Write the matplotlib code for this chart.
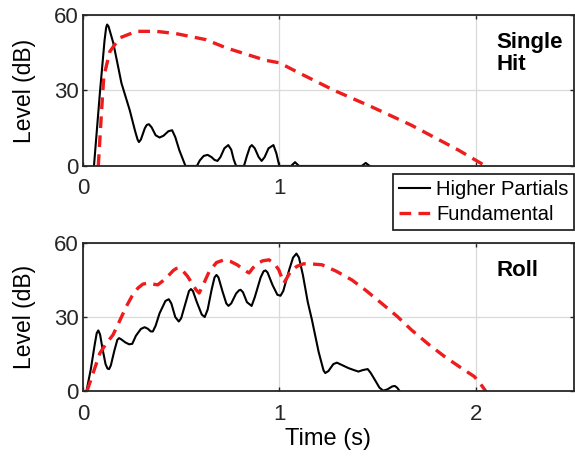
import matplotlib
matplotlib.use('Agg')
import matplotlib.pyplot as plt

plt.rcParams['font.family'] = ['Liberation Sans', 'DejaVu Sans']

# single hit - higher partials
t_hit_hp = [0.056, 0.086, 0.11, 0.118, 0.123, 0.13, 0.154, 0.175, 0.196, 0.238,
            0.265, 0.278, 0.285, 0.295, 0.315, 0.325, 0.336, 0.35, 0.37, 0.39,
            0.41, 0.435, 0.454, 0.47, 0.491, 0.522, 0.58, 0.595, 0.615, 0.635,
            0.655, 0.67, 0.685, 0.70, 0.72, 0.74, 0.755, 0.768, 0.78, 0.82,
            0.835, 0.85, 0.86, 0.875, 0.895, 0.91, 0.925, 0.945, 0.97, 0.985, 1.0,
            1.06, 1.08, 1.10, 1.42, 1.44, 1.46]
lv_hit_hp = [0, 28.9, 50, 55, 56.2, 55.5, 49, 41, 32.9, 22.2,
             14, 10.5, 9.5, 10.5, 15, 16.3, 16.6, 15.3, 12.2, 11.3,
             12, 13.8, 14.2, 11.5, 6.2, 0, 0, 2.2, 4, 4.4,
             3.5, 2.4, 2, 3.5, 7, 8.3, 6.5, 2.5, 0, 0,
             4, 7.5, 8.3, 7, 3.5, 2, 3.5, 7, 8.3, 5, 0,
             0, 1.5, 0, 0, 1.2, 0]

# single hit - fundamental
t_hit_f = [0.078, 0.095, 0.106, 0.137, 0.187, 0.272, 0.373, 0.474, 0.626, 0.73,
           0.93, 1.0, 1.10, 1.28, 1.47, 1.67, 1.91, 2.05]
lv_hit_f = [0, 22.2, 35.5, 45.5, 50.9, 53.5, 53.5, 52.6, 50.2, 46.9,
            42, 41, 37, 30, 23.5, 16.3, 6.4, 0]

# roll - higher partials
t_roll_hp = [0.019, 0.04, 0.06, 0.07, 0.078, 0.087, 0.10, 0.115, 0.125, 0.133,
             0.142, 0.16, 0.175, 0.184, 0.195, 0.215, 0.235, 0.251, 0.27, 0.295,
             0.314, 0.33, 0.345, 0.356, 0.37, 0.39, 0.42, 0.437, 0.45, 0.47,
             0.488, 0.50, 0.52, 0.54, 0.55, 0.56, 0.58, 0.605, 0.62, 0.635,
             0.655, 0.67, 0.68, 0.69, 0.71, 0.73, 0.741, 0.755, 0.78, 0.795,
             0.803, 0.815, 0.835, 0.859, 0.875, 0.905, 0.92, 0.93, 0.94, 0.965,
             0.99, 1.006, 1.02, 1.05, 1.07, 1.087, 1.10, 1.12, 1.145, 1.166,
             1.20, 1.225, 1.234, 1.25, 1.275, 1.293, 1.32, 1.352, 1.38, 1.403,
             1.425, 1.45, 1.465, 1.487, 1.51, 1.529, 1.55, 1.575, 1.588, 1.60, 1.614]
lv_roll_hp = [0.6, 9, 19, 23.5, 24.6, 23, 17, 11, 9.2, 9,
              10.5, 16.5, 20.8, 21.5, 21, 19.8, 19, 19.2, 22.5, 25.2,
              25.9, 25.3, 24.2, 24.2, 26.5, 31.5, 36.5, 37.2, 35.5, 30,
              28.2, 29.5, 35, 40.5, 41.3, 40.5, 36, 31, 30, 33,
              41, 46, 47, 46, 40.5, 35.5, 34.5, 35.5, 39.5, 40.8,
              41, 40, 36, 34.5, 38, 46, 48.5, 48.8, 48, 43,
              39, 38.6, 40.5, 49, 54, 55.6, 54, 47, 36, 28.9,
              16, 8.5, 7.4, 8.2, 11, 11.6, 10.6, 9.4, 8.6, 8,
              8.6, 9, 7.5, 4.6, 1.5, 0.3, 0.8, 2, 2.2, 1.5, 0]

# roll - fundamental
t_roll_f = [0.02, 0.05, 0.086, 0.12, 0.153, 0.19, 0.221, 0.25, 0.28, 0.305,
            0.331, 0.355, 0.381, 0.405, 0.432, 0.46, 0.475, 0.488, 0.505, 0.533,
            0.556, 0.576, 0.592, 0.615, 0.643, 0.68, 0.719, 0.75, 0.787, 0.82,
            0.846, 0.865, 0.888, 0.915, 0.947, 0.975, 0.997, 1.012, 1.023, 1.04,
            1.057, 1.09, 1.124, 1.17, 1.217, 1.29, 1.369, 1.44, 1.52, 1.60,
            1.673, 1.76, 1.841, 1.92, 1.993, 2.025, 2.052]
lv_roll_f = [0, 7, 15.4, 19.5, 22.8, 29, 34.3, 38.5, 41.7, 43.3,
             43.7, 43.3, 43, 44.5, 46.4, 48.8, 49.6, 49.8, 49, 46.4,
             43.5, 41, 39.7, 43.5, 48.4, 52, 53.1, 52.5, 51, 49,
             47.8, 49.8, 51.5, 52.7, 53.1, 51.5, 49.1, 46, 43.7, 46,
             48.4, 50.5, 51.5, 51.4, 51.1, 48.5, 45, 40.8, 35.6, 30.3,
             24.8, 19, 14.1, 9.8, 6, 3, 0]

fig = plt.figure(figsize=(5.75, 4.61), dpi=100)
ax1 = fig.add_axes([0.1443, 0.640, 0.8537, 0.3275])
ax2 = fig.add_axes([0.1443, 0.151, 0.8537, 0.3225])

h1, = ax1.plot(t_hit_hp, lv_hit_hp, color='black', lw=1.5, label='Higher Partials')
h2, = ax1.plot(t_hit_f, lv_hit_f, color='#ee1c1c', lw=2.4, ls=(0, (3.5, 2.2)),
               label='Fundamental')
ax2.plot(t_roll_hp, lv_roll_hp, color='black', lw=1.5)
ax2.plot(t_roll_f, lv_roll_f, color='#ee1c1c', lw=2.4, ls=(0, (3.5, 2.2)))

for ax in (ax1, ax2):
    ax.set_xlim(0, 2.5)
    ax.set_ylim(0, 60)
    ax.set_xticks([0, 1, 2])
    ax.set_yticks([0, 30, 60])
    ax.grid(True, color='#d9d9d9', lw=0.9)
    ax.set_axisbelow(True)
    ax.tick_params(direction='in', length=3, width=1, top=True, right=True,
                   labelsize=16, colors='#262626')
    ax.tick_params(axis='x', pad=9)
    ax.tick_params(axis='y', pad=3)
    for s in ax.spines.values():
        s.set_linewidth(1.3)
        s.set_color('#262626')
    ax.set_ylabel('Level (dB)', fontsize=16.5, labelpad=13)

# the "2" of the top panel sits under the legend
ax1.set_xticklabels(['0', '1', ''])

ax1.text(0.843, 0.89, 'Single\nHit', transform=ax1.transAxes, ha='left', va='top',
         fontsize=16, fontweight='bold', linespacing=1.1)
ax2.text(0.843, 0.885, 'Roll', transform=ax2.transAxes, ha='left', va='top',
         fontsize=16, fontweight='bold')
ax2.set_xlabel('Time (s)', fontsize=17, labelpad=2)

leg = fig.legend(handles=[h1, h2], loc='upper right', bbox_to_anchor=(0.999, 0.622),
                 fontsize=14.5, frameon=True, fancybox=False, framealpha=1,
                 edgecolor='#262626', handlelength=1.55, handletextpad=0.3,
                 borderpad=0.3, labelspacing=0.3, borderaxespad=0)
leg.get_frame().set_linewidth(1.3)

fig.savefig('out.png', dpi=100)
